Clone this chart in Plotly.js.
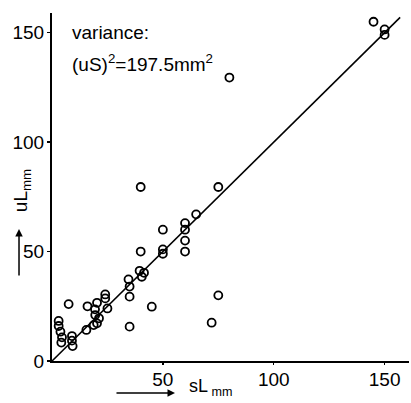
<!DOCTYPE html>
<html>
<head>
<meta charset="utf-8">
<script src="https://cdn.plot.ly/plotly-3.0.1.min.js"></script>
<style>html,body{margin:0;padding:0;background:#fff;}#chart{width:411px;height:403px;}</style>
</head>
<body>
<div id="chart"></div>
<script>
// measured values: sL (x, mm) and uL (y, mm)
const sL = [145,150,150,80,40,75,65,60,60,60,60,50,50,50,40,39.5,40.5,41.5,34.5,35,35,35,45,75,72,24,24,25,20.3,16,19.4,19.5,21.2,20.3,18.8,15.5,7.5,3,3,3.8,4.5,4.2,9,9,9.3];
const uL = [155,151.5,149,129.5,79.5,79.5,67,63,60,55,50,60,51,49,50,41.2,38.5,40.3,37.3,34,29.4,15.7,24.8,30,17.5,30.4,28.6,24,26.6,25,23.6,21,19.5,17.2,16.4,14.2,26,18.3,16,13.4,10.8,8.4,11.4,9.3,6.8];
// identity line endpoints
const lineX = [0,157];
const lineY = [0,157];
const xTicks = [50,100,150];
const yTicks = [0,50,100,150];

const fontFam = "Liberation Sans, Arial, sans-serif";

const traces = [
  {x: lineX, y: lineY, mode: 'lines', line: {color: '#000', width: 1.6}, hoverinfo: 'skip', showlegend: false},
  {x: sL, y: uL, mode: 'markers', showlegend: false,
   marker: {symbol: 'circle-open', size: 8, color: '#000', line: {color: '#000', width: 1.8}}}
];

const layout = {
  width: 411, height: 403,
  margin: {l: 52, r: 2, t: 13, b: 42},
  paper_bgcolor: '#fff', plot_bgcolor: '#fff',
  font: {family: fontFam, color: '#000', size: 18},
  xaxis: {range: [0, 161], tickvals: xTicks, ticktext: xTicks.map(String), showgrid: false, zeroline: false,
          showline: true, linecolor: '#000', linewidth: 2, ticks: 'outside', ticklen: 2, tickwidth: 1.5, tickcolor: '#000',
          ticklabelstandoff: -2,
          tickfont: {family: fontFam, size: 19, color: '#000'}},
  yaxis: {range: [0, 159], tickvals: yTicks, ticktext: yTicks.map(String), showgrid: false, zeroline: false,
          showline: true, linecolor: '#000', linewidth: 2, ticks: 'outside', ticklen: 3, tickwidth: 1.5, tickcolor: '#000',
          ticklabelstandoff: -1,
          tickfont: {family: fontFam, size: 19, color: '#000'}},
  annotations: [
    {xref: 'paper', yref: 'paper', x: 0.05, y: 0.945, xanchor: 'left', yanchor: 'middle', showarrow: false,
     text: 'variance:', font: {family: fontFam, size: 19, color: '#000'}},
    {xref: 'paper', yref: 'paper', x: 0.05, y: 0.856, xanchor: 'left', yanchor: 'middle', showarrow: false,
     text: '(uS)<sup>2</sup>=197.5mm<sup>2</sup>', font: {family: fontFam, size: 19, color: '#000'}},
    {xref: 'paper', yref: 'paper', x: 0.378, y: -0.115, xanchor: 'left', yanchor: 'bottom', showarrow: false,
     text: 'sL<sub> mm</sub>', font: {family: fontFam, size: 18, color: '#000'}},
    {xref: 'paper', yref: 'paper', x: -0.084, y: 0.488, xanchor: 'center', yanchor: 'middle', showarrow: false, textangle: -90,
     text: 'uL<sub>mm</sub>', font: {family: fontFam, size: 19, color: '#000'}},
    {xref: 'paper', yref: 'paper', x: 0.3445, y: -0.092, ax: -60, ay: 0, showarrow: true, text: '',
     arrowhead: 2, arrowsize: 1, arrowwidth: 1.5, arrowcolor: '#000'},
    {xref: 'paper', yref: 'paper', x: -0.0924, y: 0.379, ax: 0, ay: 48, showarrow: true, text: '',
     arrowhead: 2, arrowsize: 1, arrowwidth: 1.5, arrowcolor: '#000'}
  ]
};

Plotly.newPlot('chart', traces, layout, {displayModeBar: false, staticPlot: true});
</script>
</body>
</html>
